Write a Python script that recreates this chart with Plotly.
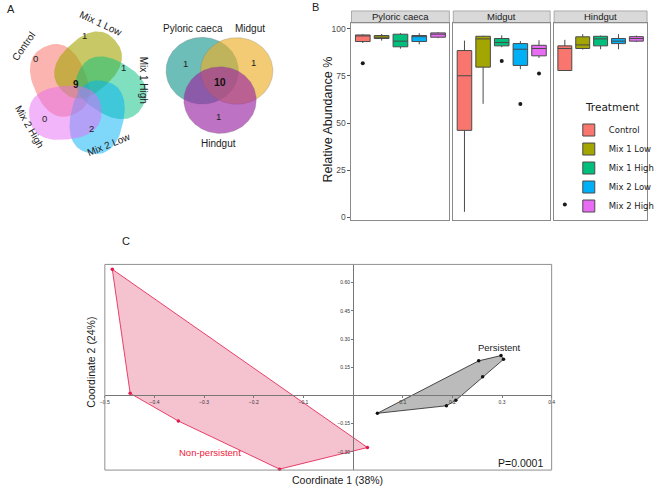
import numpy as np
import plotly.graph_objects as go

W, H = 660, 489

# ---------------- Panel A: Venn counts ----------------
venn5_sets = ["Control", "Mix 1 Low", "Mix 1 High", "Mix 2 Low", "Mix 2 High"]
venn5_unique = [0, 1, 1, 2, 0]
venn5_shared = 9
venn3_sets = ["Pyloric caeca", "Midgut", "Hindgut"]
venn3_unique = [1, 1, 1]
venn3_shared = 10

# ---------------- Panel B: box statistics ----------------
treatments = ["Control", "Mix 1 Low", "Mix 1 High", "Mix 2 Low", "Mix 2 High"]
sites = ["Pyloric caeca", "Midgut", "Hindgut"]

pc_lo = [92.5, 93.8, 89.5, 91.8, 95.1]
pc_q1 = [93.3, 94.9, 90.5, 93.3, 95.6]
pc_med = [96.5, 95.6, 93.5, 95.9, 97.2]
pc_q3 = [96.8, 96.5, 97.2, 96.5, 97.9]
pc_hi = [97.2, 97.3, 97.8, 97.7, 98.3]
pc_out_trt = ["Control"]
pc_out_val = [81.8]

mg_lo = [2.8, 60.2, 90.3, 78.6, 84.6]
mg_q1 = [46.1, 79.7, 91.0, 80.6, 85.7]
mg_med = [75.1, 94.7, 92.8, 89.2, 89.6]
mg_q3 = [88.5, 96.1, 94.9, 92.2, 91.3]
mg_hi = [93.8, 96.4, 96.6, 93.5, 94.0]
mg_out_trt = ["Mix 1 High", "Mix 2 Low", "Mix 2 High"]
mg_out_val = [82.9, 60.1, 76.3]

hg_lo = [77.9, 89.0, 89.2, 89.2, 93.0]
hg_q1 = [77.9, 89.6, 91.0, 92.2, 93.5]
hg_med = [89.6, 91.5, 94.7, 93.5, 94.9]
hg_q3 = [91.0, 95.8, 96.1, 94.9, 95.9]
hg_hi = [94.2, 97.2, 96.5, 97.2, 96.5]
hg_out_trt = ["Control"]
hg_out_val = [6.7]

# ---------------- Panel C: PCoA coordinates ----------------
nonpersist_x = [-0.485, -0.449, -0.352, -0.148, 0.029]
nonpersist_y = [0.671, 0.011, -0.136, -0.392, -0.277]
persist_x = [0.049, 0.188, 0.207, 0.261, 0.253, 0.298, 0.303]
persist_y = [-0.095, -0.055, -0.026, 0.099, 0.184, 0.212, 0.192]
coord1_label = "Coordinate 1 (38%)"
coord2_label = "Coordinate 2 (24%)"
p_value_text = "P=0.0001"

# ---------------- styling ----------------
trt_colors = ["#F8766D", "#A3A500", "#00BF7D", "#00B0F6", "#E76BF3"]
venn5_fill = ["rgba(248,118,109,0.55)", "rgba(163,165,0,0.6)", "rgba(0,191,125,0.5)",
              "rgba(0,176,246,0.5)", "rgba(231,107,243,0.5)"]
venn3_fill = ["rgba(30,153,146,0.65)", "rgba(235,175,41,0.65)", "rgba(155,38,163,0.65)"]
RED = "#E3184A"
FONT = "Arial, Liberation Sans, sans-serif"


def pxx(p):
    return p / W


def pxy(p):
    return 1 - p / H


def blob(cx, cy, a, b, rot_deg, n=2.4, m=160):
    t = np.linspace(0, 2 * np.pi, m)
    c, s = np.cos(t), np.sin(t)
    u = a * np.sign(c) * np.abs(c) ** (2 / n)
    v = b * np.sign(s) * np.abs(s) ** (2 / n)
    r = np.deg2rad(rot_deg)
    return cx + u * np.cos(r) - v * np.sin(r), cy + u * np.sin(r) + v * np.cos(r)


def hull(xs, ys):
    pts = sorted(zip(xs, ys))

    def cross(o, a, b):
        return (a[0] - o[0]) * (b[1] - o[1]) - (a[1] - o[1]) * (b[0] - o[0])

    lower, upper = [], []
    for p in pts:
        while len(lower) >= 2 and cross(lower[-2], lower[-1], p) <= 0:
            lower.pop()
        lower.append(p)
    for p in reversed(pts):
        while len(upper) >= 2 and cross(upper[-2], upper[-1], p) <= 0:
            upper.pop()
        upper.append(p)
    h = lower[:-1] + upper[:-1]
    h.append(h[0])
    return [p[0] for p in h], [p[1] for p in h]


def ann(**kw):
    d = dict(showarrow=False, xanchor="center", yanchor="middle")
    d.update(kw)
    return d


fig = go.Figure()
annotations = []
shapes = []

# ================= Panel A (pixel-space overlay axes x5/y5) =================
cpx, cpy, dist = 81, 93, 28
for k, name in enumerate(venn5_sets):
    th = 206 + 72 * k
    cx = cpx + dist * np.cos(np.deg2rad(th))
    cy = cpy + dist * np.sin(np.deg2rad(th))
    bx, by = blob(cx, cy, 37, 27, th + 40)
    fig.add_trace(go.Scatter(x=bx, y=by, fill="toself", fillcolor=venn5_fill[k], mode="lines",
                             line=dict(width=0, color="rgba(0,0,0,0)"), xaxis="x5", yaxis="y5",
                             showlegend=False, hoverinfo="skip"))

v5_label_pos = [(19, 47, -55), (98, 24, 25), (141, 80, 90), (106, 145, -22), (25, 127, 60)]
v5_count_pos = [(31, 59), (81, 36), (121, 68), (88, 129), (40, 119)]
for k, name in enumerate(venn5_sets):
    lx, ly, ang = v5_label_pos[k]
    annotations.append(ann(x=lx, y=ly, xref="x5", yref="y5", text=name, textangle=ang,
                           font=dict(family=FONT, size=10, color="#222")))
    cx, cy = v5_count_pos[k]
    annotations.append(ann(x=cx, y=cy, xref="x5", yref="y5", text=str(venn5_unique[k]),
                           font=dict(family=FONT, size=9.5, color="#222")))
annotations.append(ann(x=73, y=85, xref="x5", yref="y5", text="<b>%d</b>" % venn5_shared,
                       font=dict(family=FONT, size=10, color="#111")))

v3_centers = [(201.5, 71), (236.7, 71.3), (219.7, 100.5)]
for k, name in enumerate(venn3_sets):
    cx, cy = v3_centers[k]
    bx, by = blob(cx, cy, 37, 33.5, 0, n=2)
    fig.add_trace(go.Scatter(x=bx, y=by, fill="toself", fillcolor=venn3_fill[k], mode="lines",
                             line=dict(width=0.6, color="rgba(120,120,120,0.45)"), xaxis="x5",
                             yaxis="y5", showlegend=False, hoverinfo="skip"))
v3_label_pos = [(192, 29), (250, 29), (218, 144)]
v3_count_pos = [(184, 64), (254, 63), (218, 117)]
for k, name in enumerate(venn3_sets):
    lx, ly = v3_label_pos[k]
    annotations.append(ann(x=lx, y=ly, xref="x5", yref="y5", text=name,
                           font=dict(family=FONT, size=10, color="#222")))
    cx, cy = v3_count_pos[k]
    annotations.append(ann(x=cx, y=cy, xref="x5", yref="y5", text=str(venn3_unique[k]),
                           font=dict(family=FONT, size=9.5, color="#222")))
annotations.append(ann(x=220, y=82, xref="x5", yref="y5", text="<b>%d</b>" % venn3_shared,
                       font=dict(family=FONT, size=10.5, color="#111")))

# ================= Panel B =================
site_stats = [
    (pc_lo, pc_q1, pc_med, pc_q3, pc_hi, pc_out_trt, pc_out_val),
    (mg_lo, mg_q1, mg_med, mg_q3, mg_hi, mg_out_trt, mg_out_val),
    (hg_lo, hg_q1, hg_med, hg_q3, hg_hi, hg_out_trt, hg_out_val),
]
facet_px = [(354, 454), (458, 557), (561, 656)]
b_top, b_bot, strip_top = 23, 221, 11
for s, (lo, q1, med, q3, hi, otrt, oval) in enumerate(site_stats):
    sfx = "" if s == 0 else str(s + 1)
    for i, t in enumerate(treatments):
        fig.add_trace(go.Box(x=[t], lowerfence=[lo[i]], q1=[q1[i]], median=[med[i]], q3=[q3[i]],
                             upperfence=[hi[i]], name=t, legendgroup=t, showlegend=(s == 0),
                             fillcolor=trt_colors[i], line=dict(color="#4a4a4a", width=1),
                             width=0.78, whiskerwidth=0, boxpoints=False,
                             xaxis="x" + sfx, yaxis="y" + sfx, hoverinfo="skip"))
    fig.add_trace(go.Scatter(x=otrt, y=oval, mode="markers", marker=dict(color="#1a1a1a", size=4),
                             xaxis="x" + sfx, yaxis="y" + sfx, showlegend=False, hoverinfo="skip"))
    x0, x1 = facet_px[s]
    shapes.append(dict(type="rect", xref="paper", yref="paper", x0=pxx(x0), x1=pxx(x1),
                       y0=pxy(b_top), y1=pxy(strip_top), fillcolor="#D9D9D9",
                       line=dict(color="#9a9a9a", width=0.8), layer="below"))
    annotations.append(ann(x=pxx((x0 + x1) / 2), y=pxy((b_top + strip_top) / 2), xref="paper",
                           yref="paper", text=sites[s],
                           font=dict(family=FONT, size=9.5, color="#1a1a1a")))
annotations.append(ann(x=pxx(591), y=pxy(107), xref="paper", yref="paper", text="Treatment",
                       xanchor="left", font=dict(family="DejaVu Sans", size=10.5, color="#1a1a1a")))

# ================= Panel C =================
c_left, c_right, c_top, c_bot = 102, 558.5, 265.5, 472
xr = [-0.5, 0.4]
yr = [-0.397, 0.697]
xdom = [pxx(c_left), pxx(c_right)]
ydom = [pxy(c_bot), pxy(c_top)]
x_axis_pos = ydom[0] + (0 - yr[0]) / (yr[1] - yr[0]) * (ydom[1] - ydom[0])
y_axis_pos = xdom[0] + (0 - xr[0]) / (xr[1] - xr[0]) * (xdom[1] - xdom[0])

hx, hy = hull(nonpersist_x, nonpersist_y)
fig.add_trace(go.Scatter(x=hx, y=hy, fill="toself", fillcolor="rgba(232,120,150,0.45)",
                         mode="lines", line=dict(color=RED, width=0.8), xaxis="x4", yaxis="y4",
                         showlegend=False, hoverinfo="skip"))
hx, hy = hull(persist_x, persist_y)
fig.add_trace(go.Scatter(x=hx, y=hy, fill="toself", fillcolor="rgba(150,150,150,0.65)",
                         mode="lines", line=dict(color="#222", width=0.8), xaxis="x4", yaxis="y4",
                         showlegend=False, hoverinfo="skip"))
fig.add_trace(go.Scatter(x=nonpersist_x, y=nonpersist_y, mode="markers",
                         marker=dict(color=RED, size=3.5), xaxis="x4", yaxis="y4",
                         showlegend=False, hoverinfo="skip", cliponaxis=False))
fig.add_trace(go.Scatter(x=persist_x, y=persist_y, mode="markers",
                         marker=dict(color="#111", size=3.5), xaxis="x4", yaxis="y4",
                         showlegend=False, hoverinfo="skip", cliponaxis=False))

shapes.append(dict(type="rect", xref="x4 domain", yref="y4 domain", x0=0, x1=1, y0=0, y1=1,
                   line=dict(color="#8f8f8f", width=1), layer="above"))
annotations += [
    ann(x=0.295, y=0.256, xref="x4", yref="y4", text="Persistent",
        font=dict(family=FONT, size=9.5, color="#1a1a1a")),
    ann(x=-0.289, y=-0.302, xref="x4", yref="y4", text="Non-persistent",
        font=dict(family=FONT, size=9.5, color="#F0203A")),
    ann(x=pxx(552), y=pxy(465), xref="paper", yref="paper", text=p_value_text,
        xanchor="right", font=dict(family=FONT, size=10.5, color="#1a1a1a")),
    ann(x=pxx(340), y=pxy(482), xref="paper", yref="paper", text=coord1_label,
        font=dict(family=FONT, size=10.5, color="#1a1a1a")),
    ann(x=pxx(87), y=pxy(364), xref="paper", yref="paper", text=coord2_label,
        textangle=-90, font=dict(family=FONT, size=10.5, color="#1a1a1a")),
    ann(x=pxx(329), y=pxy(120), xref="paper", yref="paper", text="Relative Abundance %",
        textangle=-90, font=dict(family=FONT, size=12.5, color="#1a1a1a")),
    ann(x=pxx(6), y=pxy(9), xref="paper", yref="paper", text="A",
        font=dict(family=FONT, size=11, color="#222")),
    ann(x=pxx(317), y=pxy(7), xref="paper", yref="paper", text="B",
        font=dict(family=FONT, size=11, color="#222")),
    ann(x=pxx(124), y=pxy(242), xref="paper", yref="paper", text="C",
        font=dict(family=FONT, size=11, color="#222")),
]

# ================= Layout =================
box_y = dict(range=[-1.6, 103.2], domain=[pxy(b_bot), pxy(b_top)], showgrid=False,
             zeroline=False, showline=True, mirror=True, linecolor="#8a8a8a", linewidth=1)
box_x = dict(type="category", categoryorder="array", categoryarray=treatments,
             range=[-0.6, 4.6], showgrid=False, zeroline=False, showline=True, mirror=True,
             linecolor="#8a8a8a", linewidth=1, showticklabels=False, ticks="")

layout = dict(
    width=W, height=H, autosize=False, margin=dict(l=0, r=0, t=0, b=0), paper_bgcolor="white",
    plot_bgcolor="rgba(0,0,0,0)", boxmode="overlay",
    xaxis=dict(box_x, domain=[pxx(facet_px[0][0]), pxx(facet_px[0][1])], anchor="y"),
    xaxis2=dict(box_x, domain=[pxx(facet_px[1][0]), pxx(facet_px[1][1])], anchor="y2"),
    xaxis3=dict(box_x, domain=[pxx(facet_px[2][0]), pxx(facet_px[2][1])], anchor="y3"),
    yaxis=dict(box_y, anchor="x", ticks="outside", ticklen=3, tickcolor="#555",
               tickvals=[0, 25, 50, 75, 100], tickfont=dict(family=FONT, size=8.5, color="#4d4d4d")),
    yaxis2=dict(box_y, anchor="x2", showticklabels=False, ticks=""),
    yaxis3=dict(box_y, anchor="x3", showticklabels=False, ticks=""),
    xaxis4=dict(domain=xdom, range=xr, anchor="free", position=x_axis_pos, showgrid=False,
                zeroline=False, showline=True, linecolor="#777", linewidth=1, ticks="outside",
                ticklen=2, tickcolor="#777",
                tickvals=[-0.5, -0.4, -0.3, -0.2, -0.1, 0.1, 0.2, 0.3, 0.4], tickformat=".1f",
                tickfont=dict(family=FONT, size=5, color="#333")),
    yaxis4=dict(domain=ydom, range=yr, anchor="free", position=y_axis_pos, showgrid=False,
                zeroline=False, showline=True, linecolor="#777", linewidth=1, ticks="outside",
                ticklen=2, tickcolor="#777",
                tickvals=[-0.30, -0.15, 0.15, 0.30, 0.45, 0.60], tickformat=".2f",
                tickfont=dict(family=FONT, size=5, color="#333")),
    xaxis5=dict(domain=[0, pxx(300)], range=[0, 300], visible=False, anchor="y5"),
    yaxis5=dict(domain=[pxy(160), 1], range=[160, 0], visible=False, anchor="x5"),
    legend=dict(x=pxx(576), y=pxy(116), xanchor="left", yanchor="top",
                bgcolor="rgba(0,0,0,0)", tracegroupgap=0, itemwidth=30,
                font=dict(family="DejaVu Sans", size=8.5, color="#1a1a1a")),
    annotations=annotations, shapes=shapes,
)
fig.update_layout(**layout)

fig.write_html("out.html",
               config={"displayModeBar": False, "responsive": False},
               post_script="document.body.style.margin='0';"
                           "document.documentElement.style.overflow='hidden';")
